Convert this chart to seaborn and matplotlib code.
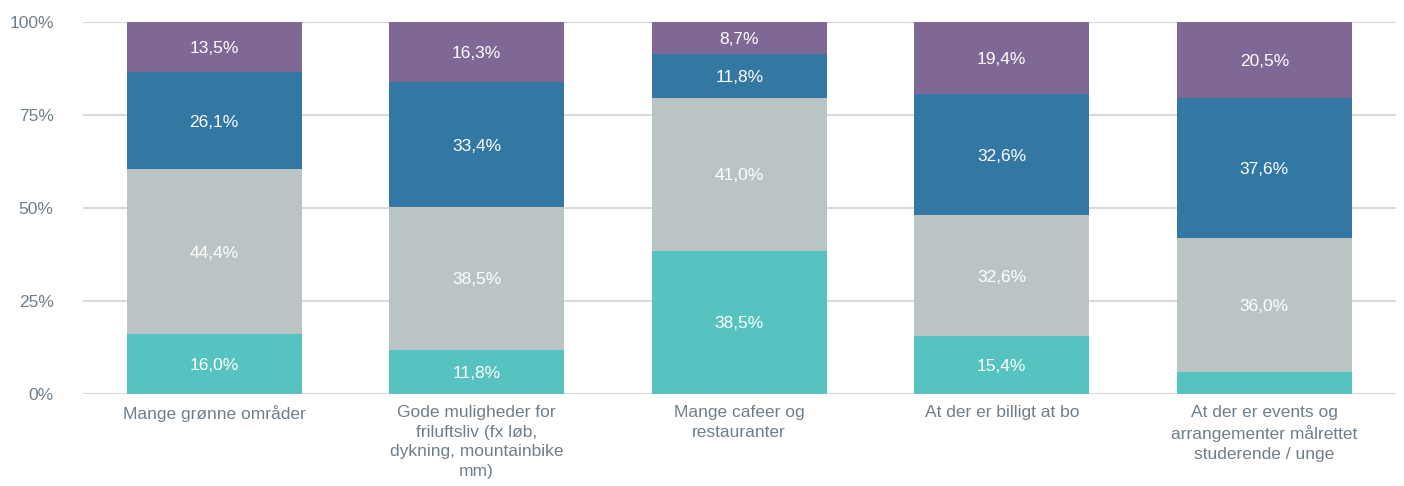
import matplotlib
matplotlib.use("Agg")
import matplotlib.pyplot as plt
import numpy as np
import pandas as pd
import seaborn as sns

categories = ["Mange grønne områder",
              "Gode muligheder for\nfriluftsliv (fx løb,\ndykning, mountainbike\nmm)",
              "Mange cafeer og\nrestauranter",
              "At der er billigt at bo",
              "At der er events og\narrangementer målrettet\nstuderende / unge"]
s1 = [16.0, 11.8, 38.5, 15.4, 5.9]
s2 = [44.4, 38.5, 41.0, 32.6, 36.0]
s3 = [26.1, 33.4, 11.8, 32.6, 37.6]
s4 = [13.5, 16.3, 8.7, 19.4, 20.5]
series = [s1, s2, s3, s4]
colors = ["#56c3c0", "#bac4c5", "#3377a3", "#7f6896"]

sns.set_theme(style="white")
plt.rcParams['font.family'] = ['Liberation Sans', 'DejaVu Sans']
tick_col = "#6f7f8a"

fig, ax = plt.subplots(figsize=(14.04, 4.86), dpi=100)
fig.subplots_adjust(left=0.059, right=0.994, top=0.955, bottom=0.19)

ax.yaxis.grid(True, color="#d9d9d9", linewidth=1.5)
ax.set_axisbelow(True)

bottom = np.zeros(len(categories))
for vals, col in zip(series, colors):
    df = pd.DataFrame({"cat": categories, "val": vals})
    sns.barplot(data=df, x="cat", y="val", bottom=bottom, color=col,
                width=0.667, saturation=1, ax=ax, linewidth=0)
    bottom = bottom + np.array(vals)

for cont in ax.containers:
    labels = []
    for b in cont:
        h = b.get_height()
        labels.append("" if h < 8 else f"{h:.1f}".replace(".", ",") + "%")
    txts = ax.bar_label(cont, labels=labels, label_type="center", color="white", fontsize=12.5)
    for t in txts:
        t.set_va("center_baseline")

ax.set_xlim(-0.5, 4.5)
ax.set_ylim(0, 100)
ax.set_yticks([0, 25, 50, 75, 100])
ax.set_yticklabels(["0%", "25%", "50%", "75%", "100%"])
ax.set_xlabel("")
ax.set_ylabel("")
ax.tick_params(axis="both", colors=tick_col, labelsize=12.5, length=0)
ax.tick_params(axis="y", pad=21)
ax.tick_params(axis="x", pad=8)
for lab in ax.get_xticklabels():
    lab.set_linespacing(1.4)
for sp in ax.spines.values():
    sp.set_visible(False)

fig.savefig("out.png", dpi=100)
